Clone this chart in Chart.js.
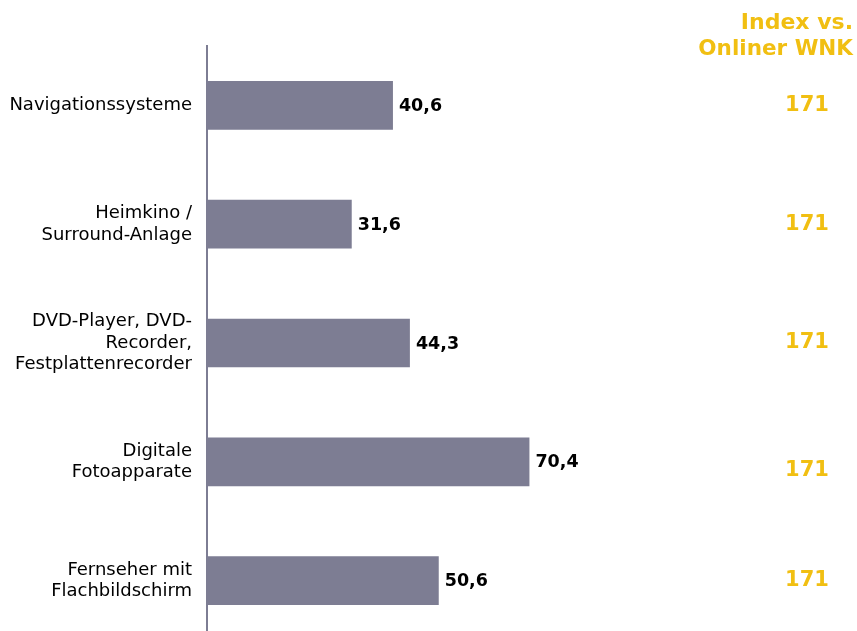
<!DOCTYPE html>
<html>
<head>
<meta charset="utf-8">
<script src="https://cdn.jsdelivr.net/npm/chart.js@4"></script>
<style>
  html, body { margin: 0; padding: 0; background: #fff; overflow: hidden; }
  #wrap { width: 857px; height: 640px; position: relative; }
</style>
</head>
<body>
<div id="wrap"><canvas id="c" width="857" height="640"></canvas></div>
<script>
// Categories (multi-line labels), shares in percent, index vs. online population
const categories = [
  ['Navigationssysteme'],
  ['Heimkino /', 'Surround-Anlage'],
  ['DVD-Player, DVD-', 'Recorder,', 'Festplattenrecorder'],
  ['Digitale', 'Fotoapparate'],
  ['Fernseher mit', 'Flachbildschirm']
];
const shares = [40.6, 31.6, 44.3, 70.4, 50.6];
const indexValues = [171, 171, 171, 171, 171];
const indexHeader = ['Index vs.', 'Onliner WNK'];

const BAR = '#7d7d93';
const GOLD = '#f1bf12';
const FONT = '"DejaVu Sans", Verdana, sans-serif';

const fmt = v => v.toFixed(1).replace('.', ',');

// Value labels at the bar ends plus the index column on the right
const annotate = {
  id: 'annotate',
  afterDatasetsDraw(chart) {
    const ctx = chart.ctx;
    const meta = chart.getDatasetMeta(0);
    const nudge = [0, 0, 0, 9, 0];
    ctx.save();
    ctx.textBaseline = 'middle';
    meta.data.forEach((bar, i) => {
      ctx.fillStyle = '#000';
      ctx.font = 'bold 17.5px ' + FONT;
      ctx.textAlign = 'left';
      ctx.fillText(fmt(shares[i]), bar.x + 6, bar.y + 1);
      ctx.fillStyle = GOLD;
      ctx.font = 'bold 21px ' + FONT;
      ctx.textAlign = 'center';
      ctx.fillText(String(indexValues[i]), 807, bar.y + nudge[i]);
    });
    ctx.fillStyle = GOLD;
    ctx.textAlign = 'right';
    ctx.font = 'bold 22px ' + FONT;
    ctx.fillText(indexHeader[0], 853, 23);
    ctx.font = 'bold 21.5px ' + FONT;
    ctx.fillText(indexHeader[1], 853, 49);
    ctx.restore();
  }
};

new Chart(document.getElementById('c'), {
  type: 'bar',
  data: {
    labels: categories,
    datasets: [{
      data: shares,
      backgroundColor: BAR,
      borderWidth: 0,
      categoryPercentage: 0.41,
      barPercentage: 1
    }]
  },
  options: {
    indexAxis: 'y',
    responsive: false,
    animation: false,
    layout: { padding: { top: 46, bottom: 0, left: 0, right: 192 } },
    plugins: { legend: { display: false }, tooltip: { enabled: false } },
    scales: {
      x: {
        display: false,
        min: 0,
        max: 100
      },
      y: {
        grid: { display: false, drawTicks: false },
        border: { display: true, color: BAR, width: 2 },
        ticks: {
          color: '#000',
          padding: 15,
          font: { family: FONT, size: 18, lineHeight: '21.5px' }
        },
        afterFit(scale) {
          scale.width = 207;
          scale.paddingTop = 0;
          scale.paddingBottom = 0;
        }
      }
    }
  },
  plugins: [annotate]
});
</script>
</body>
</html>
